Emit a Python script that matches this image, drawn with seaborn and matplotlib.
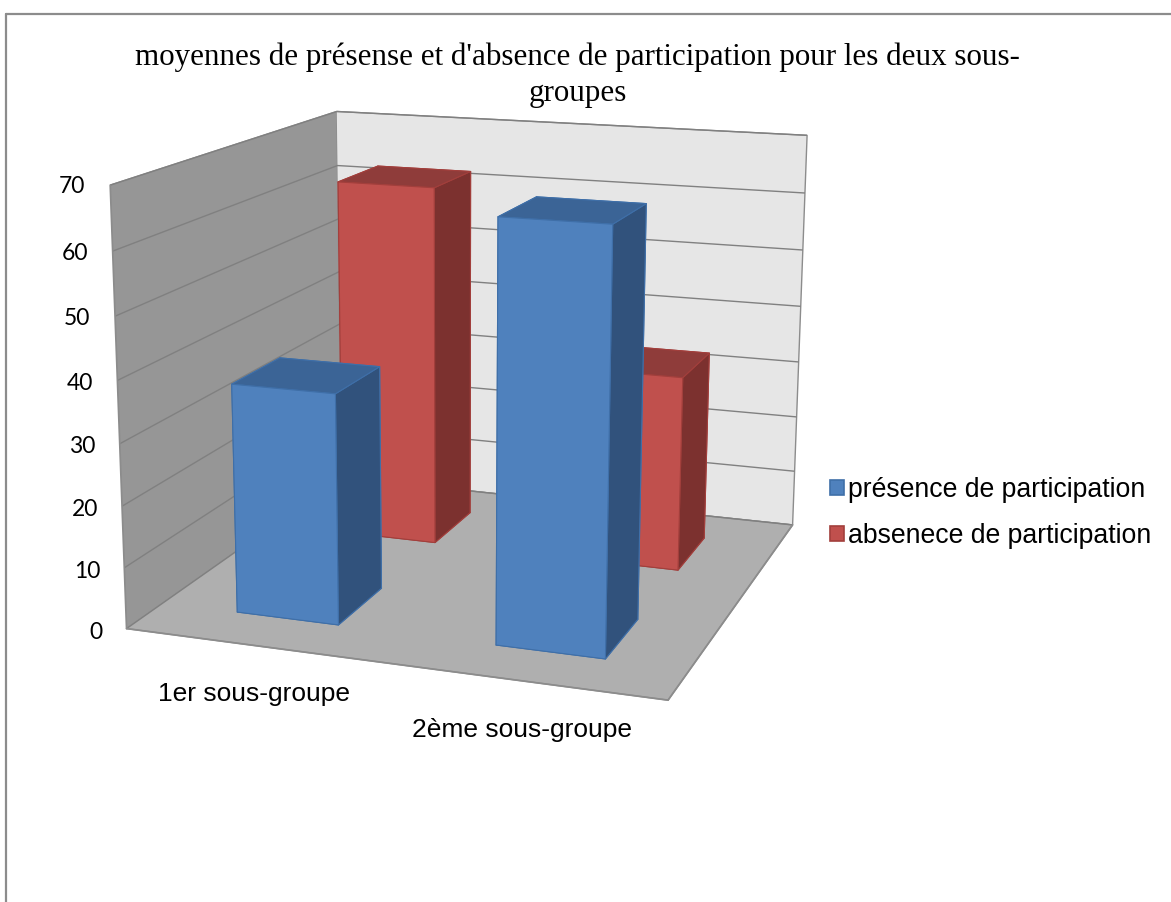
import numpy as np, matplotlib
matplotlib.use('Agg')
import matplotlib.pyplot as plt
from matplotlib.lines import Line2D
from matplotlib.patches import Patch
import seaborn as sns

sns.set_theme(style='white')
W, H = 1171, 902
categories = ['1er sous-groupe', '2ème sous-groupe']
series = ['présence de participation', 'absenece de participation']
presence = [37.5, 66.6]
absence = [62.5, 33.4]
zticks = list(range(0, 71, 10))
blue = {'f': '#4F81BD', 't': '#3B6496', 'r': '#31527C', 'e': '#3F6FA8'}
red = {'f': '#C0504D', 't': '#8F3C3A', 'r': '#7C312F', 'e': '#A23F3C'}

fig = plt.figure(figsize=(W/100, H/100), dpi=100)
ax = fig.add_axes([-0.0983, 0.0757, 1, 1], projection='3d')
ax.set_xlim(0, 2); ax.set_ylim(0, 2); ax.set_zlim(0, 70)
ax.view_init(elev=14.0715, azim=-70.8199, roll=-0.1667)
ax.set_proj_type('persp', focal_length=0.4731)
ax.set_box_aspect((4.3317, 4.3266, 3.4771), zoom=0.9315)

ax.set_xticks([.55, 1.53])
ax.set_xticklabels(categories, fontfamily='Liberation Sans', fontsize=19, color='black')
ax.set_yticks([])
ax.set_zticks(zticks)
ax.set_zticklabels([str(z) for z in zticks], fontfamily='Lato', fontsize=16.5, color='black', ha='right', va='center')
ax.zaxis.set_ticks_position('lower')
ax.tick_params(axis='x', pad=10.5)
ax.tick_params(axis='z', pad=2.5)
for a, c in ((ax.xaxis, '#969696'), (ax.yaxis, '#E6E6E6'), (ax.zaxis, '#AFAFAF')):
    a.set_pane_color(c)
    a.pane.set_edgecolor('#8c8c8c')
    a.line.set_color('#8c8c8c')
    a._axinfo['tick']['inward_factor'] = 0
    a._axinfo['tick']['outward_factor'] = 0
ax.xaxis._axinfo['grid']['linewidth'] = 0
ax.yaxis._axinfo['grid']['linewidth'] = 0
ax.zaxis._axinfo['grid'].update(color='#808080', linewidth=1)

w, d = .4, .42
xs = [.3, 1.3, .3, 1.3]
ys = [.29, .29, 1.29, 1.29]
h = presence + absence
cols, edges = [], []
for c in [blue, blue, red, red]:
    cols += [c['t'], c['t'], c['f'], c['f'], c['r'], c['r']]
    edges += [c['e']] * 6
ax.bar3d(xs, ys, [0]*4, [w]*4, [d]*4, h, color=cols, shade=False, linewidth=0.8, edgecolors=edges)

fig.text(135/W, 1-57/H, "moyennes de présense et d'absence de participation pour les deux sous-",
         family='Liberation Serif', fontsize=22.3, va='center', color='black')
fig.text(578/W, 1-94/H, 'groupes', family='Liberation Serif', fontsize=22.3, va='center', ha='center', color='black')

fig.add_artist(Line2D([6/W, 1], [1-14/H, 1-14/H], color='#8c8c8c', lw=1.6))
fig.add_artist(Line2D([6/W, 6/W], [1-14/H, 0], color='#8c8c8c', lw=1.6))

handles = [Patch(facecolor=blue['f'], edgecolor=blue['e'], lw=1.2), Patch(facecolor=red['f'], edgecolor=red['e'], lw=1.2)]
fig.legend(handles, series, loc='center left', bbox_to_anchor=(830/W, 1-513/H), frameon=False,
           prop={'family': 'Liberation Sans', 'size': 19.2}, labelcolor='black', handlelength=0.52, handleheight=0.52,
           handletextpad=0.15, labelspacing=0.76, borderpad=0, borderaxespad=0)
fig.savefig('out.png', dpi=100)
